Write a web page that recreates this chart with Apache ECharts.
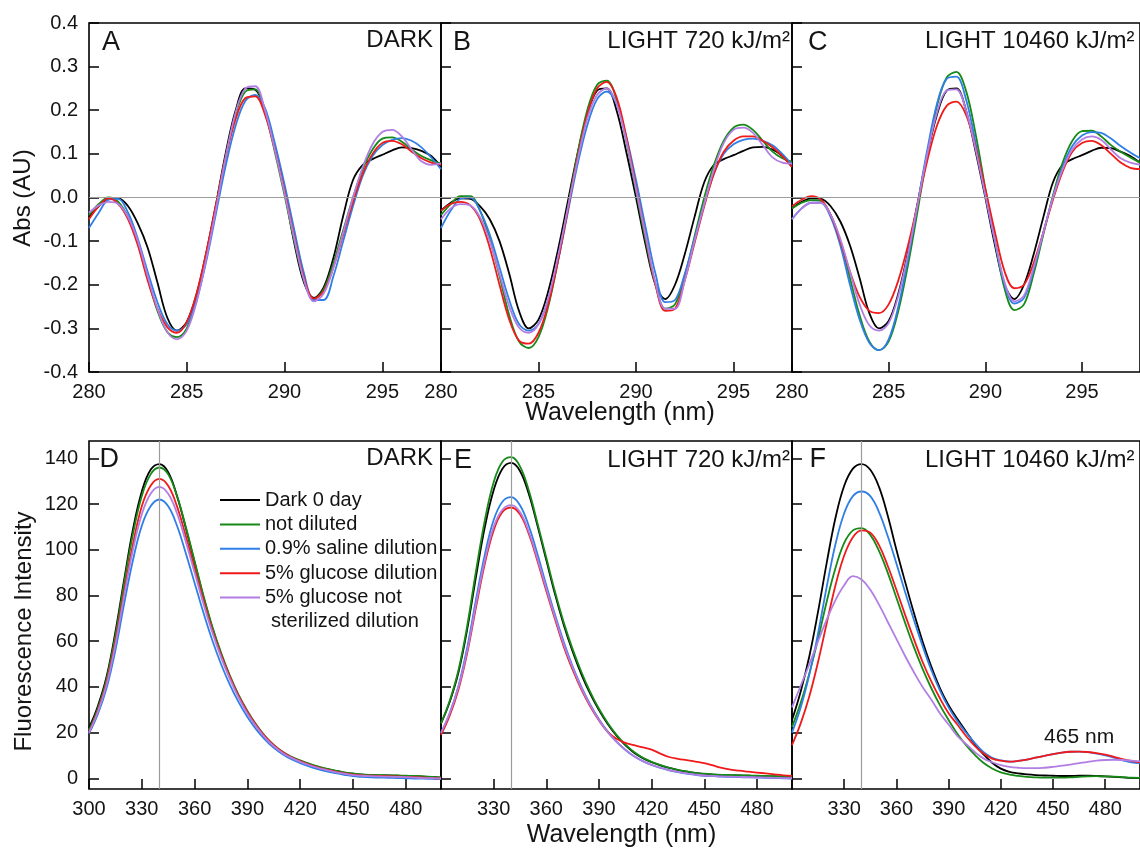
<!DOCTYPE html>
<html><head><meta charset="utf-8">
<script src="https://cdn.jsdelivr.net/npm/echarts@6/dist/echarts.min.js"></script>
<style>html,body{margin:0;padding:0;background:#fff}#c{width:1140px;height:854px}</style>
</head><body><div id="c"></div>
<script>
const seriesNames = ['Dark 0 day','not diluted','0.9% saline dilution','5% glucose dilution','5% glucose not sterilized dilution'];
const seriesColors = ['#000000','#168a16','#2f7fe6','#f01a1a','#b27ee4'];

const absWavelength = [280,280.5,281,281.5,282,282.5,283,283.5,284,284.5,285,285.5,286,286.5,287,287.5,288,288.5,289,289.5,290,290.5,291,291.5,292,292.5,293,293.5,294,294.5,295,295.5,296,296.5,297,297.5,298];
const flWavelength = [300,305,310,315,320,325,330,335,340,345,350,355,360,365,370,375,380,385,390,395,400,405,410,415,420,425,430,435,440,445,450,455,460,465,470,475,480,485,490,495,500];

const absTicksX = [280,285,290,295];
const absTicksY = [-0.4,-0.3,-0.2,-0.1,0,0.1,0.2,0.3,0.4];
const flTicksXFirst = [300,330,360,390,420,450,480];
const flTicksXOther = [330,360,390,420,450,480];
const flTicksY = [0,20,40,60,80,100,120,140];
const absZero = 0;
const flRefWavelength = 340;
const annotation465 = {text:'465 nm', x:465, y:17.8};

// Panel A – DARK (absorbance 2nd derivative)
const absA_dark0 = [-0.045,-0.02,-0.004,-0.002,-0.02,-0.06,-0.115,-0.195,-0.275,-0.305,-0.285,-0.222,-0.126,-0.014,0.104,0.2,0.25,0.247,0.2,0.118,0.015,-0.105,-0.196,-0.23,-0.206,-0.138,-0.042,0.04,0.075,0.088,0.098,0.108,0.115,0.113,0.107,0.095,0.07];
const absA_notDiluted = [-0.04,-0.015,0.0,-0.01,-0.045,-0.105,-0.185,-0.26,-0.308,-0.32,-0.3,-0.235,-0.135,-0.02,0.095,0.19,0.243,0.248,0.195,0.105,0.005,-0.1,-0.19,-0.233,-0.21,-0.15,-0.075,0.0,0.065,0.11,0.135,0.138,0.128,0.11,0.095,0.085,0.078];
const absA_saline = [-0.07,-0.035,-0.005,-0.003,-0.035,-0.095,-0.17,-0.24,-0.29,-0.305,-0.29,-0.235,-0.145,-0.035,0.075,0.165,0.222,0.235,0.205,0.125,0.03,-0.075,-0.175,-0.235,-0.235,-0.18,-0.1,-0.02,0.05,0.095,0.12,0.132,0.136,0.13,0.115,0.092,0.065];
const absA_glucose = [-0.05,-0.02,-0.002,-0.015,-0.05,-0.11,-0.19,-0.255,-0.297,-0.31,-0.285,-0.22,-0.125,-0.015,0.095,0.18,0.228,0.232,0.19,0.11,0.015,-0.09,-0.185,-0.232,-0.215,-0.16,-0.085,-0.01,0.055,0.1,0.125,0.13,0.122,0.105,0.09,0.08,0.075];
const absA_glucoseNS = [-0.035,-0.018,-0.01,-0.015,-0.045,-0.1,-0.18,-0.255,-0.308,-0.325,-0.305,-0.24,-0.14,-0.025,0.095,0.195,0.25,0.255,0.2,0.11,0.01,-0.095,-0.19,-0.238,-0.22,-0.16,-0.08,0.0,0.07,0.122,0.15,0.155,0.14,0.11,0.083,0.075,0.078];

// Panel B – LIGHT 720
const absB_dark0 = [-0.03,-0.012,-0.002,-0.003,-0.02,-0.05,-0.1,-0.175,-0.26,-0.3,-0.28,-0.215,-0.12,-0.01,0.1,0.19,0.245,0.25,0.2,0.105,0.0,-0.11,-0.2,-0.233,-0.2,-0.13,-0.045,0.035,0.075,0.088,0.097,0.107,0.115,0.116,0.11,0.095,0.07];
const absB_notDiluted = [-0.04,-0.015,0.003,0.003,-0.03,-0.095,-0.18,-0.27,-0.33,-0.345,-0.32,-0.25,-0.145,-0.025,0.1,0.2,0.258,0.268,0.225,0.13,0.015,-0.1,-0.2,-0.255,-0.245,-0.18,-0.09,0.0,0.075,0.13,0.16,0.167,0.155,0.13,0.105,0.09,0.082];
const absB_saline = [-0.07,-0.03,-0.003,0.0,-0.03,-0.085,-0.16,-0.235,-0.29,-0.305,-0.29,-0.235,-0.145,-0.035,0.075,0.165,0.225,0.243,0.215,0.14,0.04,-0.07,-0.175,-0.24,-0.235,-0.175,-0.095,-0.015,0.055,0.1,0.122,0.132,0.135,0.13,0.12,0.1,0.075];
const absB_glucose = [-0.03,-0.015,-0.01,-0.018,-0.05,-0.115,-0.2,-0.28,-0.328,-0.335,-0.31,-0.245,-0.145,-0.03,0.09,0.19,0.25,0.265,0.23,0.14,0.025,-0.09,-0.2,-0.26,-0.255,-0.19,-0.105,-0.02,0.055,0.105,0.13,0.14,0.14,0.13,0.115,0.095,0.07];
const absB_glucoseNS = [-0.05,-0.025,-0.015,-0.018,-0.045,-0.1,-0.175,-0.25,-0.298,-0.31,-0.29,-0.23,-0.135,-0.025,0.085,0.18,0.235,0.25,0.215,0.13,0.02,-0.09,-0.195,-0.255,-0.255,-0.19,-0.1,-0.015,0.065,0.125,0.155,0.16,0.148,0.12,0.092,0.08,0.078];

// Panel C – LIGHT 10460
const absC_dark0 = [-0.025,-0.01,-0.002,-0.003,-0.02,-0.055,-0.11,-0.185,-0.265,-0.3,-0.283,-0.22,-0.125,-0.012,0.1,0.19,0.245,0.25,0.2,0.105,0.0,-0.11,-0.2,-0.233,-0.2,-0.13,-0.045,0.035,0.075,0.088,0.097,0.107,0.114,0.113,0.105,0.095,0.08];
const absC_notDiluted = [-0.025,-0.012,-0.006,-0.008,-0.04,-0.1,-0.185,-0.27,-0.33,-0.35,-0.33,-0.26,-0.155,-0.03,0.1,0.21,0.275,0.288,0.245,0.145,0.02,-0.1,-0.21,-0.258,-0.245,-0.175,-0.085,0.005,0.08,0.13,0.152,0.153,0.14,0.12,0.105,0.092,0.08];
const absC_saline = [-0.05,-0.025,-0.012,-0.012,-0.045,-0.11,-0.2,-0.28,-0.333,-0.35,-0.325,-0.25,-0.14,-0.015,0.11,0.215,0.272,0.277,0.225,0.125,0.01,-0.1,-0.2,-0.243,-0.23,-0.165,-0.08,0.0,0.07,0.118,0.142,0.15,0.148,0.135,0.118,0.103,0.09];
const absC_glucose = [-0.02,-0.005,0.003,-0.005,-0.04,-0.1,-0.17,-0.228,-0.26,-0.265,-0.245,-0.19,-0.11,-0.015,0.085,0.165,0.21,0.22,0.19,0.115,0.02,-0.08,-0.17,-0.208,-0.2,-0.15,-0.08,-0.005,0.06,0.105,0.125,0.13,0.12,0.1,0.08,0.068,0.065];
const absC_glucoseNS = [-0.05,-0.025,-0.012,-0.012,-0.04,-0.095,-0.17,-0.245,-0.293,-0.305,-0.288,-0.225,-0.13,-0.015,0.1,0.195,0.245,0.248,0.2,0.11,0.005,-0.1,-0.195,-0.238,-0.225,-0.16,-0.08,0.0,0.065,0.11,0.133,0.14,0.132,0.11,0.09,0.08,0.075];

// Panel D – DARK (fluorescence)
const flD_dark0 = [22,31.5,44.5,64,87,109,125.5,135,137.5,134,123.5,109.5,94.5,79.5,66,54.5,44.5,36,29,23,18,14.2,11.3,9.2,7.6,6.2,5,4,3.2,2.5,2,1.6,1.4,1.3,1.2,1.1,1.0,0.9,0.7,0.5,0.3];
const flD_notDiluted = [21,30.5,43.5,62.5,85.5,107,123.5,133,136,133,123.5,110,95,80,66.5,55,45,36.5,29.5,23.5,18.5,14.6,11.6,9.4,7.8,6.4,5.2,4.2,3.3,2.6,2.1,1.7,1.5,1.4,1.3,1.2,1.1,1.0,0.8,0.6,0.4];
const flD_saline = [19.5,28,39.5,56,76.5,95.5,110.5,119,122,119,110.5,98.5,85.5,72.5,60.5,50,41,33.3,26.8,21.4,16.9,13.3,10.5,8.3,6.6,5.2,4.0,3.0,2.2,1.5,0.9,0.6,0.4,0.3,0.2,0.1,0,-0.1,-0.2,-0.3,-0.4];
const flD_glucose = [20,29.5,42,60,82,102.5,119,128,131,128,119,106,92,78,65,54,44.5,36,29,23.2,18.3,14.5,11.5,9.2,7.5,6,4.8,3.8,2.9,2.2,1.6,1.3,1.1,1.0,0.9,0.8,0.6,0.5,0.3,0.1,0];
const flD_glucoseNS = [20,29,41,58.5,80,100,115.5,124.5,127.5,124.5,116,103.5,90,76.5,64,53,43.5,35.3,28.3,22.6,17.8,14,11.1,8.9,7.2,5.8,4.6,3.6,2.7,2,1.4,1.1,0.9,0.8,0.7,0.6,0.5,0.3,0.1,0,-0.1];

// Panel E – LIGHT 720
const flE_dark0 = [24,33.5,46.5,65.5,88.5,110,126,135.5,138,134.5,124.5,110.5,95.5,80.5,67,55.5,45.5,37,29.8,23.7,18.6,14.5,11.2,8.8,7,5.6,4.5,3.6,2.9,2.3,1.9,1.6,1.4,1.3,1.2,1.1,1.0,0.9,0.8,0.6,0.5];
const flE_notDiluted = [24,34,47.5,67,91,113,129.5,138.5,140.5,136.5,126,111.5,96.5,81.5,68,56.5,46.5,37.8,30.4,24.2,19,14.8,11.5,9,7.2,5.8,4.6,3.7,3,2.4,2,1.7,1.5,1.4,1.3,1.2,1.1,1.0,0.9,0.7,0.5];
const flE_saline = [19.5,28.5,40.5,57.5,78.5,98,113,121,123,119.5,110.5,98,84.5,71.5,59.5,49,40,32.3,25.8,20.4,16,12.5,9.6,7.5,5.8,4.5,3.5,2.7,2,1.5,1.1,0.9,0.7,0.6,0.5,0.4,0.3,0.2,0.1,0,-0.1];
const flE_glucose = [19,27.5,39,55,75,94,108.5,116.5,118.5,115.5,107,95,82,69.5,57.5,47.5,38.8,31.5,25.3,20.3,17.3,15.5,14.5,13.5,12.5,10.8,9.3,8.5,7.9,7.3,6.6,5.6,4.5,3.8,3.3,2.9,2.5,2.1,1.7,1.3,1.0];
const flE_glucoseNS = [20,28.5,40,56,76.5,95.5,110,117.5,119.5,116.5,108,96,83,70.5,58.5,48.5,39.5,32,25.5,20.2,15.9,12.4,9.6,7.5,5.9,4.6,3.6,2.8,2.1,1.6,1.2,1.0,0.8,0.7,0.6,0.5,0.4,0.3,0.2,0.1,0];

// Panel F – LIGHT 10460
const flF_dark0 = [25.5,38,53.5,73,94.5,114,128,135.5,137.5,135,127.5,115,100,86,72.5,60,49,39.5,32,26,20.5,15,10.5,6.8,4.2,2.8,2.1,1.7,1.4,1.2,1.1,1.0,1.0,1.1,1.1,1.0,0.8,0.6,0.4,0.2,0.1];
const flF_notDiluted = [22.5,33,46,61,77.5,92,103,108.5,109.5,106.5,99.5,90,79,68,57.5,48,39.5,32,25.5,19.5,14.5,10.3,6.8,4.3,2.6,1.6,1.0,0.6,0.4,0.3,0.3,0.3,0.4,0.6,0.8,0.9,0.8,0.7,0.5,0.3,0.2];
const flF_saline = [20,31,45.5,63.5,84,102.5,116,123.5,125.5,123.5,116.5,106,94,81.5,69.5,58,47.5,38.5,31,25,20,15.5,11.5,9,7.8,7.3,7.6,8.2,9,9.8,10.6,11.2,11.6,11.7,11.4,10.8,10,9,7.8,7,6.6];
const flF_glucose = [14.5,24,36,51,68,84.5,97.5,105.5,108.5,107.5,102,93,82.5,71.5,61,51,42.5,35,28.5,23.5,18.5,14.2,10.8,8.6,7.7,7.3,7.6,8.2,9,9.8,10.6,11.2,11.6,11.7,11.5,11,10.3,9.4,8.4,7.6,7];
const flF_glucoseNS = [31,40.5,50,60,69.5,78,84.5,88.5,87,82.5,76,68.5,61,53.5,46.5,40,34.5,28.5,23.5,18.5,15,11.5,8.7,7,5.8,5,4.6,4.4,4.4,4.6,5,5.5,6,6.6,7.2,7.7,8,8.1,8,7.7,7.4];

const panelData = [
  [absA_dark0,absA_notDiluted,absA_saline,absA_glucose,absA_glucoseNS],
  [absB_dark0,absB_notDiluted,absB_saline,absB_glucose,absB_glucoseNS],
  [absC_dark0,absC_notDiluted,absC_saline,absC_glucose,absC_glucoseNS],
  [flD_dark0,flD_notDiluted,flD_saline,flD_glucose,flD_glucoseNS],
  [flE_dark0,flE_notDiluted,flE_saline,flE_glucose,flE_glucoseNS],
  [flF_dark0,flF_notDiluted,flF_saline,flF_glucose,flF_glucoseNS]
];

const FONT = 'Liberation Sans, Arial, Helvetica, sans-serif';
const TXT = '#141414';
const grids = [
  {left:89, top:23, width:352, height:349},
  {left:441, top:23, width:351, height:349},
  {left:792, top:23, width:351, height:349},
  {left:89, top:441, width:352, height:348},
  {left:441, top:441, width:351, height:348},
  {left:792, top:441, width:351, height:348}
].map(g => Object.assign({show:true, borderColor:'#000', borderWidth:1.6, backgroundColor:'transparent'}, g));

const xAxes = [], yAxes = [];
for (let p = 0; p < 6; p++) {
  const isAbs = p < 3;
  const xt = isAbs ? absTicksX : (p === 3 ? flTicksXFirst : flTicksXOther);
  xAxes.push({
    type:'value', gridIndex:p, position:'bottom',
    min: isAbs ? 280 : 300, max: isAbs ? 298 : 500,
    axisLine:{show:false, onZero:false},
    splitLine:{show:false},
    axisTick:{show:true, inside:true, length:10, customValues:xt, lineStyle:{color:'#000', width:1.5}},
    axisLabel:{show:true, customValues:xt, margin:10, fontSize:20, color:TXT, fontFamily:FONT}
  });
  const yt = isAbs ? absTicksY : flTicksY;
  yAxes.push({
    type:'value', gridIndex:p, position:'left',
    min: isAbs ? -0.4 : -4.7, max: isAbs ? 0.4 : 147.6,
    axisLine:{show:false, onZero:false},
    splitLine:{show:false},
    axisTick:{show:true, inside:true, length:10, customValues:yt, lineStyle:{color:'#000', width:1.5}},
    axisLabel:{show: (p === 0 || p === 3), customValues:yt, margin:11, fontSize:20, color:TXT, fontFamily:FONT,
      formatter: isAbs ? (v => v.toFixed(1)) : (v => String(v))}
  });
}

const series = [];
for (let p = 0; p < 6; p++) {
  const isAbs = p < 3;
  series.push({
    type:'line', name:'_ref'+p, xAxisIndex:p, yAxisIndex:p, data:[], silent:true, z:1,
    markLine:{silent:true, symbol:'none', animation:false, label:{show:false},
      lineStyle:{color:'#9c9c9c', width:1.2, type:'solid'},
      data:[isAbs ? {yAxis:absZero} : {xAxis:flRefWavelength}]}
  });
}
for (let p = 0; p < 6; p++) {
  const isAbs = p < 3;
  const xs = isAbs ? absWavelength : flWavelength;
  for (let i = 0; i < 5; i++) {
    const ys = panelData[p][i];
    const s = {
      type:'line', name:seriesNames[i], xAxisIndex:p, yAxisIndex:p,
      data: xs.map((x,k) => [x, ys[k]]),
      smooth: isAbs ? 0.35 : 0.4, showSymbol:false, symbol:'none', z:2,
      lineStyle:{color:seriesColors[i], width:1.8},
      itemStyle:{color:seriesColors[i]}
    };
    if (p === 5 && i === 2) {
      s.markPoint = {
        silent:true, symbol:'circle', symbolSize:1, itemStyle:{color:'rgba(0,0,0,0)'},
        label:{show:true, position:'inside', formatter:annotation465.text, fontSize:21, color:TXT, fontFamily:FONT},
        data:[{coord:[annotation465.x, annotation465.y]}]
      };
    }
    series.push(s);
  }
}

function txt(text, x, y, size, align, extra) {
  return Object.assign({type:'text', x:x, y:y, silent:true,
    style:{text:text, fontSize:size, fontFamily:FONT, fill:TXT, align:align, verticalAlign:'middle'}}, extra || {});
}
const graphics = [
  txt('A', 102, 42.5, 27, 'left'),
  txt('DARK', 433, 40.5, 24, 'right'),
  txt('B', 453, 42.5, 27, 'left'),
  txt('LIGHT 720 kJ/m²', 790, 41.5, 24, 'right'),
  txt('C', 808, 42.5, 27, 'left'),
  txt('LIGHT 10460 kJ/m²', 925, 41.5, 24, 'left'),
  txt('D', 99.5, 459.5, 27, 'left'),
  txt('DARK', 433, 458.5, 24, 'right'),
  txt('E', 454, 460.5, 27, 'left'),
  txt('LIGHT 720 kJ/m²', 790, 460, 24, 'right'),
  txt('F', 809.5, 460, 27, 'left'),
  txt('LIGHT 10460 kJ/m²', 925, 460.5, 24, 'left'),
  txt('Abs (AU)', 23, 198, 24, 'center', {rotation:Math.PI/2}),
  txt('Fluorescence Intensity', 24.5, 631.5, 24, 'center', {rotation:Math.PI/2}),
  txt('Wavelength (nm)', 620, 413, 25, 'center'),
  txt('Wavelength (nm)', 621.5, 835.5, 25, 'center'),
  txt('sterilized dilution', 271, 621.5, 20, 'left')
];

const chart = echarts.init(document.getElementById('c'), null, {renderer:'canvas'});
chart.setOption({
  animation:false,
  backgroundColor:'#ffffff',
  grid:grids, xAxis:xAxes, yAxis:yAxes, series:series,
  legend:{
    data:seriesNames, orient:'vertical', left:220, top:490, padding:0,
    itemWidth:40, itemHeight:2, itemGap:4.4, icon:'rect',
    selectedMode:false,
    textStyle:{fontSize:20, color:TXT, fontFamily:FONT},
    formatter: n => n === seriesNames[4] ? '5% glucose not' : n
  },
  graphic:graphics
});
</script></body></html>
